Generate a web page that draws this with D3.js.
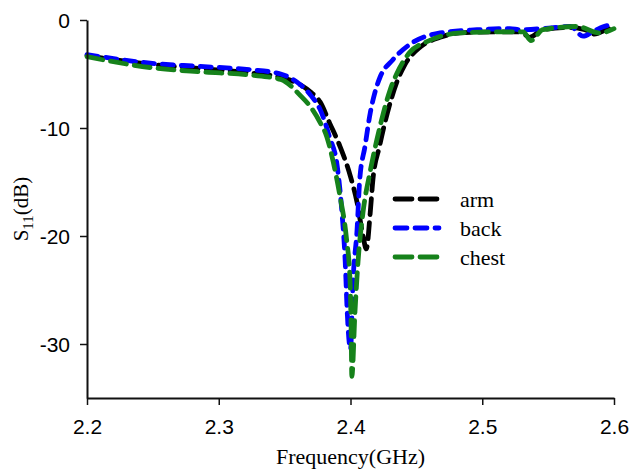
<!DOCTYPE html>
<html>
<head>
<meta charset="utf-8">
<script src="https://cdn.jsdelivr.net/npm/d3@7"></script>
<style>
  body { margin: 0; background: #fff; }
  svg { display: block; }
</style>
</head>
<body>
<svg width="633" height="470"></svg>
<script>
// S11 curves: frequency (GHz) and S11 (dB) per body position
var armF  = [2.200, 2.248, 2.286, 2.324, 2.347, 2.362, 2.370, 2.377, 2.384, 2.392, 2.400, 2.405, 2.4095, 2.412, 2.415, 2.417, 2.422, 2.428, 2.435, 2.441, 2.453, 2.468, 2.483, 2.514, 2.529, 2.536, 2.546, 2.567, 2.578, 2.585, 2.594, 2.600];
var armS  = [-3.3, -4.1, -4.5, -4.9, -5.3, -6.0, -6.7, -7.6, -9.5, -11.7, -14.5, -16.9, -20.0, -21.2, -17.8, -14.8, -11.7, -8.6, -5.8, -4.2, -2.5, -1.6, -1.2, -1.1, -1.1, -1.6, -0.9, -0.7, -0.9, -1.3, -0.9, -0.6];

var backF = [2.200, 2.248, 2.286, 2.324, 2.347, 2.362, 2.370, 2.377, 2.384, 2.390, 2.3935, 2.396, 2.3975, 2.400, 2.402, 2.405, 2.407, 2.411, 2.415, 2.419, 2.4224, 2.432, 2.447, 2.468, 2.496, 2.521, 2.529, 2.546, 2.567, 2.5765, 2.585, 2.597, 2.600];
var backS = [-3.2, -4.0, -4.3, -4.6, -5.0, -6.0, -7.0, -8.3, -10.8, -13.6, -17.8, -22.4, -27.0, -30.5, -24.0, -19.4, -14.8, -11.7, -8.6, -6.5, -5.3, -3.7, -2.1, -1.2, -0.9, -0.8, -0.9, -0.8, -0.6, -1.5, -1.0, -0.5, -0.5];

var chestF = [2.200, 2.248, 2.286, 2.324, 2.347, 2.362, 2.370, 2.377, 2.382, 2.387, 2.392, 2.397, 2.3996, 2.4005, 2.401, 2.4034, 2.4057, 2.4095, 2.4148, 2.420, 2.425, 2.430, 2.435, 2.445, 2.458, 2.483, 2.508, 2.531, 2.537, 2.546, 2.572, 2.589, 2.600];
var chestS = [-3.4, -4.4, -4.8, -5.1, -5.5, -7.0, -8.1, -9.5, -10.8, -13.2, -16.3, -20.3, -24.0, -28.6, -33.0, -27.0, -22.4, -17.8, -14.1, -11.1, -8.6, -6.5, -5.0, -3.0, -2.0, -1.2, -1.1, -1.1, -1.9, -0.9, -0.6, -1.2, -0.8];

var seriesNames = ['arm', 'back', 'chest'];
var xTicks = [2.2, 2.3, 2.4, 2.5, 2.6];
var yTicks = [0, -10, -20, -30];

var svg = d3.select('svg'),
    margin = { top: 20, right: 19, bottom: 72, left: 87 },
    width = 633 - margin.left - margin.right,
    height = 470 - margin.top - margin.bottom;

var x = d3.scaleLinear().domain([2.2, 2.6]).range([0, width]);
var y = d3.scaleLinear().domain([-35, 0]).range([height, 0]);

var g = svg.append('g').attr('transform', 'translate(' + margin.left + ',' + margin.top + ')');

var series = [
    { name: seriesNames[0], f: armF, s: armS, color: '#000000', dash: '16,8' },
    { name: seriesNames[1], f: backF, s: backS, color: '#0000ff', dash: '11,8' },
    { name: seriesNames[2], f: chestF, s: chestS, color: '#16821b', dash: '16,8' }
];

var line = d3.line()
    .x(function (d) { return x(d[0]); })
    .y(function (d) { return y(d[1]); })
    .curve(d3.curveMonotoneX);

g.selectAll('.curve')
    .data(series)
    .enter().append('path')
    .attr('class', 'curve')
    .attr('fill', 'none')
    .attr('stroke', function (d) { return d.color; })
    .attr('stroke-width', 4.8)
    .attr('stroke-linecap', 'round')
    .attr('stroke-dasharray', function (d) { return d.dash; })
    .attr('d', function (d) { return line(d3.zip(d.f, d.s)); });

// axes (plain hyphen for negatives, as in the original)
var xAxis = g.append('g')
    .attr('transform', 'translate(0,' + height + ')')
    .call(d3.axisBottom(x).tickValues(xTicks).tickFormat(function (d) { return d.toFixed(1); })
        .tickSize(7).tickSizeOuter(0).tickPadding(14));

var yAxis = g.append('g')
    .call(d3.axisLeft(y).tickValues(yTicks).tickFormat(function (d) { return String(d); })
        .tickSize(7).tickSizeOuter(0).tickPadding(10));

[xAxis, yAxis].forEach(function (a) {
    a.select('.domain').attr('stroke', '#111').attr('stroke-width', 2);
    a.selectAll('.tick line').attr('stroke', '#111').attr('stroke-width', 1.5);
    a.selectAll('.tick text')
        .attr('fill', '#000')
        .style('font-family', '"Liberation Sans", Arial, sans-serif')
        .style('font-size', '21px');
});
yAxis.selectAll('.tick text').attr('dy', '0.36em');

// axis titles
svg.append('text')
    .attr('x', margin.left + x(2.4))
    .attr('y', 464)
    .attr('text-anchor', 'middle')
    .style('font-family', '"Liberation Serif", "Times New Roman", serif')
    .style('font-size', '22px')
    .text('Frequency(GHz)');

var yl = svg.append('text')
    .attr('transform', 'translate(28,209) rotate(-90)')
    .attr('text-anchor', 'middle')
    .style('font-family', '"Liberation Serif", "Times New Roman", serif')
    .style('font-size', '21px');
yl.append('tspan').text('S');
yl.append('tspan').attr('dy', 5).style('font-size', '15px').text('11');
yl.append('tspan').attr('dy', -5).text('(dB)');

// legend
var legend = svg.append('g').attr('transform', 'translate(393,199)');
var item = legend.selectAll('.item')
    .data(series)
    .enter().append('g')
    .attr('class', 'item')
    .attr('transform', function (d, i) { return 'translate(0,' + (i * 29) + ')'; });

item.append('line')
    .attr('x1', 2).attr('x2', 46)
    .attr('stroke', function (d) { return d.color; })
    .attr('stroke-width', 4.8)
    .attr('stroke-linecap', 'round')
    .attr('stroke-dasharray', function (d) { return d.name === 'back' ? '12,8' : '17,8'; });

item.append('text')
    .attr('x', 67)
    .attr('y', 8)
    .style('font-family', '"Liberation Serif", "Times New Roman", serif')
    .style('font-size', '22px')
    .text(function (d) { return d.name; });
</script>
</body>
</html>
